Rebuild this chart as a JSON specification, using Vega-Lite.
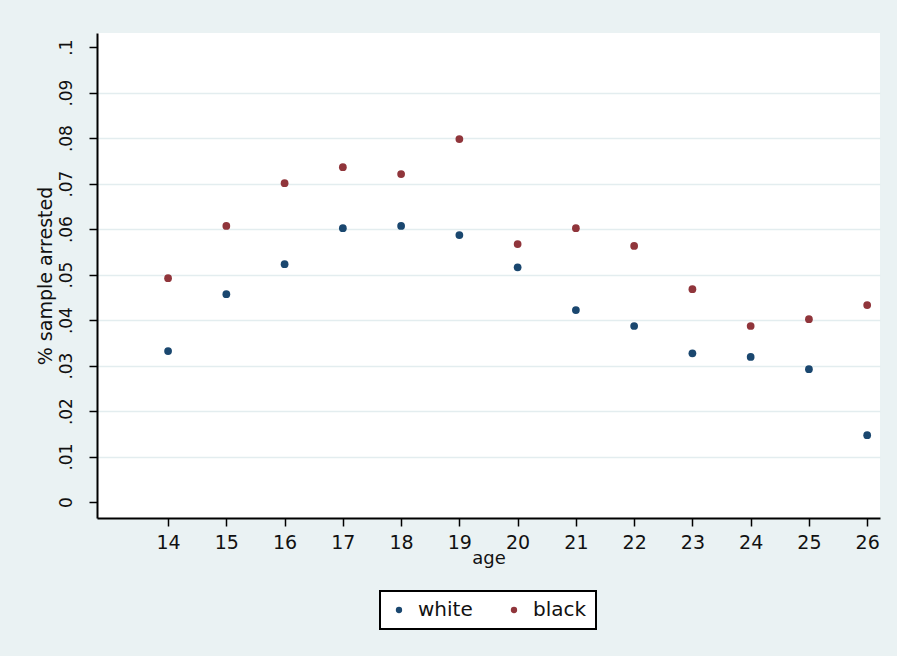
{
  "$schema": "https://vega.github.io/schema/vega-lite/v6.json",
  "width": 783,
  "height": 485,
  "autosize": {"type": "none"},
  "padding": {"left": 97, "top": 33, "right": 17, "bottom": 138},
  "background": "#eaf2f3",
  "config": {
    "view": {"fill": "white", "stroke": null},
    "font": "DejaVu Sans",
    "legend": {"strokeWidth": 2}
  },
  "data": {
    "values": [
      {"age": 14, "race": "white", "pct": 0.0332},
      {"age": 15, "race": "white", "pct": 0.0457},
      {"age": 16, "race": "white", "pct": 0.0523},
      {"age": 17, "race": "white", "pct": 0.0602},
      {"age": 18, "race": "white", "pct": 0.0607},
      {"age": 19, "race": "white", "pct": 0.0587},
      {"age": 20, "race": "white", "pct": 0.0516},
      {"age": 21, "race": "white", "pct": 0.0422},
      {"age": 22, "race": "white", "pct": 0.0387},
      {"age": 23, "race": "white", "pct": 0.0327},
      {"age": 24, "race": "white", "pct": 0.0319},
      {"age": 25, "race": "white", "pct": 0.0292},
      {"age": 26, "race": "white", "pct": 0.0147},
      {"age": 14, "race": "black", "pct": 0.0492},
      {"age": 15, "race": "black", "pct": 0.0607},
      {"age": 16, "race": "black", "pct": 0.0701},
      {"age": 17, "race": "black", "pct": 0.0736},
      {"age": 18, "race": "black", "pct": 0.0721},
      {"age": 19, "race": "black", "pct": 0.0798},
      {"age": 20, "race": "black", "pct": 0.0567},
      {"age": 21, "race": "black", "pct": 0.0602},
      {"age": 22, "race": "black", "pct": 0.0563},
      {"age": 23, "race": "black", "pct": 0.0468},
      {"age": 24, "race": "black", "pct": 0.0387},
      {"age": 25, "race": "black", "pct": 0.0402},
      {"age": 26, "race": "black", "pct": 0.0433}
    ]
  },
  "mark": {"type": "point", "filled": true, "shape": "circle", "size": 60, "opacity": 1},
  "encoding": {
    "x": {
      "field": "age",
      "type": "quantitative",
      "title": "age",
      "scale": {"domain": [12.78, 26.22], "nice": false, "zero": false},
      "axis": {
        "values": [14, 15, 16, 17, 18, 19, 20, 21, 22, 23, 24, 25, 26],
        "grid": false,
        "domainColor": "black",
        "domainWidth": 2,
        "tickColor": "black",
        "tickWidth": 1.5,
        "tickSize": 8,
        "labelFontSize": 19,
        "labelColor": "#111111",
        "labelPadding": 7,
        "titleFontSize": 18,
        "titleFontWeight": "normal",
        "titleColor": "#111111",
        "titlePadding": -3
      }
    },
    "y": {
      "field": "pct",
      "type": "quantitative",
      "title": "% sample arrested",
      "scale": {"domain": [-0.0035, 0.1031], "nice": false, "zero": false},
      "axis": {
        "values": [0, 0.01, 0.02, 0.03, 0.04, 0.05, 0.06, 0.07, 0.08, 0.09, 0.1],
        "labelExpr": "datum.value == 0 ? '0' : replace(format(datum.value, '.2~f'), '0.', '.')",
        "grid": true,
        "gridColor": "#e3edef",
        "gridWidth": 1.5,
        "gridOpacity": {"condition": {"test": "datum.value == 0 || datum.value == 0.1", "value": 0}, "value": 1},
        "domainColor": "black",
        "domainWidth": 2,
        "tickColor": "black",
        "tickWidth": 1.5,
        "tickSize": 8,
        "labelAngle": -90,
        "labelAlign": "center",
        "labelBaseline": "bottom",
        "labelFontSize": 17,
        "labelColor": "#111111",
        "labelPadding": 14,
        "titleFontSize": 19,
        "titleFontWeight": "normal",
        "titleColor": "#111111",
        "titlePadding": 2
      }
    },
    "color": {
      "field": "race",
      "type": "nominal",
      "scale": {"domain": ["white", "black"], "range": ["#1a476f", "#90353b"]},
      "legend": {
        "orient": "none",
        "legendX": 283,
        "legendY": 558,
        "direction": "horizontal",
        "title": null,
        "strokeColor": "black",
        "fillColor": "white",
        "padding": 9,
        "symbolType": "circle",
        "symbolSize": 40,
        "symbolOffset": 0,
        "symbolStrokeWidth": 0,
        "labelFontSize": 20,
        "labelColor": "#111111",
        "labelOffset": 9,
        "columnPadding": 31
      }
    }
  }
}
